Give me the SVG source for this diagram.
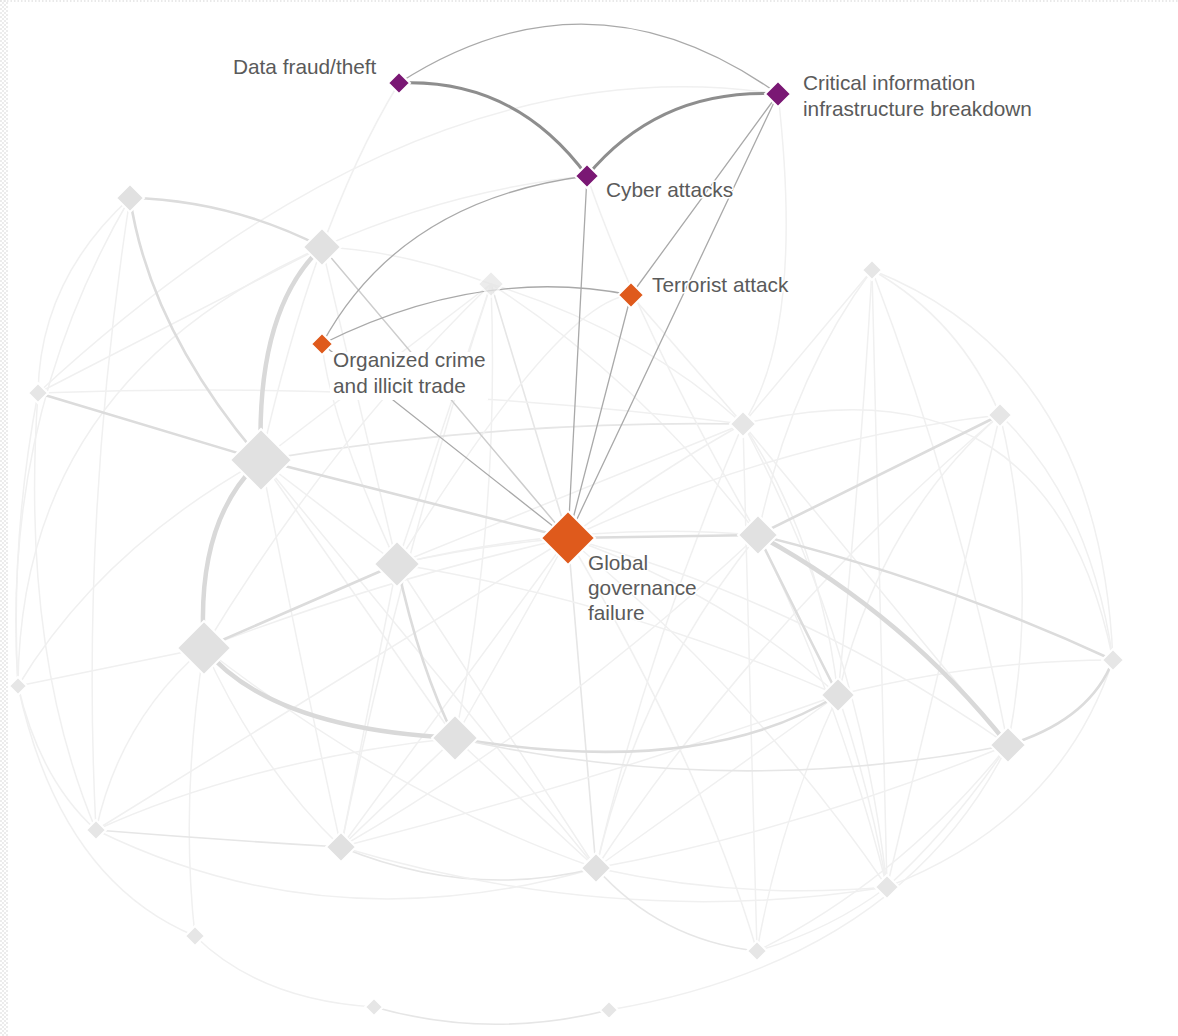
<svg xmlns="http://www.w3.org/2000/svg" width="1178" height="1036" viewBox="0 0 1178 1036">
<defs>
<pattern id="chk" width="4" height="4" patternUnits="userSpaceOnUse"><rect width="2" height="2" fill="#ececec"/><rect x="2" y="2" width="2" height="2" fill="#ececec"/></pattern>
<style>
path{fill:none;stroke-linecap:round}
.l{stroke:#f0f0f0;stroke-width:1.5}
.l2{stroke:#e6e6e6;stroke-width:1.6}
.m{stroke:#dcdcdc;stroke-width:2.6}
.t{stroke:#d9d9d9;stroke-width:4.5}
.g{stroke:#cdcdcd;stroke-width:1.5}
.h1{stroke:#a9a9a9;stroke-width:1.3}
.h2{stroke:#8e8e8e;stroke-width:3}
.gn{fill:#e1e1e1;stroke:#fff;stroke-width:2}
.gs{fill:#e6e6e6;stroke:#fff;stroke-width:2}
.pu{fill:#7a1874;stroke:#fff;stroke-width:2}
.or{fill:#df5a1c;stroke:#fff;stroke-width:2}
text{font-family:"Liberation Sans",Arial,sans-serif;font-size:20.8px;fill:#5a5a5a;stroke:#fff;stroke-width:3;paint-order:stroke;stroke-linejoin:round}
</style>
</defs>
<rect width="1178" height="1036" fill="#fff"/>
<rect x="0" y="0" width="8" height="1036" fill="url(#chk)"/>
<line x1="0" y1="1" x2="1178" y2="1" stroke="#e2e2e2" stroke-width="1.5" stroke-dasharray="1.5 2"/>
<g id="connectors">
<path class="l" d="M568,538 Q480,545 397,564"/>
<path class="l" d="M568,538 Q380,580 204,648"/>
<path class="l" d="M568,538 L455,738"/>
<path class="l" d="M568,538 Q660,470 743,424"/>
<path class="l" d="M568,538 Q780,440 1000,415"/>
<path class="l" d="M568,538 Q720,590 838,695"/>
<path class="l" d="M568,538 Q800,600 1008,745"/>
<path class="l" d="M568,538 L96,830"/>
<path class="l" d="M568,538 L341,847"/>
<path class="l2" d="M568,538 L596,868"/>
<path class="l" d="M568,538 Q760,700 887,887"/>
<path class="l" d="M568,538 Q700,760 757,951"/>
<path class="l2" d="M568,538 L491,284"/>
<path class="l" d="M491,284 Q500,520 455,738"/>
<path class="l" d="M491,284 L397,564"/>
<path class="l" d="M491,284 Q400,560 341,847"/>
<path class="l" d="M491,284 Q640,380 758,535"/>
<path class="l" d="M491,284 Q400,250 322,247"/>
<path class="l" d="M491,284 Q640,330 743,424"/>
<path class="l" d="M743,424 Q820,540 838,695"/>
<path class="l" d="M743,424 L1008,745"/>
<path class="l" d="M743,424 Q650,640 596,868"/>
<path class="l" d="M743,424 L397,564"/>
<path class="l" d="M743,424 Q860,640 887,887"/>
<path class="l" d="M743,424 Q400,380 38,393"/>
<path class="l2" d="M743,424 Q500,420 261,460"/>
<path class="l" d="M743,424 L757,951"/>
<path class="l" d="M743,424 Q1050,350 1113,660"/>
<path class="l" d="M872,270 Q960,320 1000,415"/>
<path class="l" d="M872,270 Q790,380 758,535"/>
<path class="l" d="M872,270 Q860,480 838,695"/>
<path class="l" d="M872,270 Q1100,360 1113,660"/>
<path class="l" d="M872,270 L743,424"/>
<path class="l" d="M872,270 Q960,500 1008,745"/>
<path class="l" d="M872,270 L887,887"/>
<path class="l" d="M1000,415 Q880,520 838,695"/>
<path class="l" d="M1000,415 Q1040,580 1008,745"/>
<path class="l" d="M1000,415 Q1090,500 1113,660"/>
<path class="l" d="M1000,415 Q760,620 596,868"/>
<path class="l" d="M1000,415 L887,887"/>
<path class="l" d="M758,535 Q840,700 887,887"/>
<path class="l" d="M758,535 Q640,680 596,868"/>
<path class="l" d="M758,535 Q580,520 397,564"/>
<path class="l" d="M758,535 Q560,720 341,847"/>
<path class="l" d="M838,695 Q870,790 887,887"/>
<path class="l" d="M838,695 Q780,820 757,951"/>
<path class="l" d="M838,695 L596,868"/>
<path class="l" d="M838,695 Q600,780 341,847"/>
<path class="l" d="M838,695 Q620,600 397,564"/>
<path class="l" d="M1008,745 Q950,830 887,887"/>
<path class="l" d="M1008,745 Q900,880 757,951"/>
<path class="l" d="M1008,745 Q800,830 596,868"/>
<path class="l" d="M1113,660 Q1060,820 887,887"/>
<path class="l" d="M1113,660 Q980,660 838,695"/>
<path class="l" d="M261,460 L397,564"/>
<path class="l" d="M261,460 L455,738"/>
<path class="l" d="M261,460 Q300,660 341,847"/>
<path class="l" d="M261,460 L596,868"/>
<path class="l" d="M261,460 L491,284"/>
<path class="l" d="M261,460 Q100,550 18,686"/>
<path class="l" d="M397,564 L341,847"/>
<path class="l" d="M397,564 L596,868"/>
<path class="l" d="M204,648 L18,686"/>
<path class="l" d="M204,648 Q120,720 96,830"/>
<path class="l" d="M204,648 Q260,770 341,847"/>
<path class="l" d="M204,648 Q180,800 195,936"/>
<path class="l" d="M204,648 Q330,440 491,284"/>
<path class="l" d="M204,648 Q400,800 596,868"/>
<path class="l" d="M455,738 L341,847"/>
<path class="l" d="M455,738 L596,868"/>
<path class="l" d="M455,738 Q250,760 96,830"/>
<path class="l" d="M130,198 Q40,280 38,393"/>
<path class="l" d="M130,198 Q0,420 18,686"/>
<path class="l" d="M130,198 Q80,520 96,830"/>
<path class="l" d="M322,247 L38,393"/>
<path class="l" d="M322,247 L397,564"/>
<path class="l" d="M322,247 Q20,380 18,686"/>
<path class="l" d="M38,393 Q10,540 18,686"/>
<path class="l" d="M38,393 Q20,650 96,830"/>
<path class="l" d="M18,686 Q40,780 96,830"/>
<path class="l" d="M18,686 Q60,880 195,936"/>
<path class="l" d="M96,830 Q330,945 596,868"/>
<path class="l2" d="M96,830 Q220,840 341,847"/>
<path class="l2" d="M341,847 Q470,900 596,868"/>
<path class="l" d="M341,847 Q620,930 887,887"/>
<path class="l" d="M596,868 Q740,900 887,887"/>
<path class="l2" d="M596,868 Q660,940 757,951"/>
<path class="l" d="M887,887 Q830,930 757,951"/>
<path class="l" d="M609,1010 Q900,960 1008,745"/>
<path class="l2" d="M374,1007 Q490,1040 609,1010"/>
<path class="l" d="M195,936 Q260,1000 374,1007"/>
<path class="l" d="M778,94 Q805,330 743,424"/>
<path class="l" d="M778,94 Q420,40 38,393"/>
<path class="l" d="M399,83 Q315,220 261,460"/>
<path class="l" d="M587,176 Q450,190 322,247"/>
<path class="l" d="M631,295 L743,424"/>
<path class="l" d="M631,295 Q560,300 397,564"/>
<path class="l" d="M587,176 Q640,330 758,535"/>
<path class="l" d="M322,344 Q330,420 397,564"/>
<path class="g" d="M322,247 L568,538"/>
<path class="m" d="M130,198 Q230,200 322,247"/>
<path class="m" d="M130,198 Q150,330 261,460"/>
<path class="t" d="M322,247 Q255,310 261,460"/>
<path class="t" d="M261,460 Q195,520 204,648"/>
<path class="m" d="M38,393 L261,460"/>
<path class="m" d="M261,460 L568,538"/>
<path class="m" d="M397,564 L204,648"/>
<path class="m" d="M397,564 Q420,670 455,738"/>
<path class="t" d="M204,648 Q270,729 455,738"/>
<path class="m" d="M568,538 L758,535"/>
<path class="m" d="M758,535 L1000,415"/>
<path class="t" d="M758,535 Q905,615 1008,745"/>
<path class="m" d="M758,535 Q940,580 1113,660"/>
<path class="m" d="M758,535 Q800,620 838,695"/>
<path class="m" d="M838,695 Q700,780 455,738"/>
<path class="l2" d="M455,738 Q730,800 1008,745"/>
<path class="m" d="M1008,745 Q1090,720 1113,660"/>
<path class="h1" d="M399,83 Q590,-40 778,94"/>
<path class="h2" d="M399,83 Q515,78 587,176"/>
<path class="h2" d="M778,94 Q660,88 587,176"/>
<path class="h1" d="M587,176 Q400,200 322,344"/>
<path class="h1" d="M587,176 L568,538"/>
<path class="h1" d="M778,94 L631,295"/>
<path class="h1" d="M778,94 L568,538"/>
<path class="h1" d="M631,295 L568,538"/>
<path class="h1" d="M631,295 Q480,265 322,344"/>
<path class="h1" d="M322,344 L568,538"/>
</g>
<g id="gray-nodes">
<polygon id="n-g1" class="gn" points="130,184 144,198 130,212 116,198"/>
<polygon id="n-g2" class="gn" points="322,228 341,247 322,266 303,247"/>
<polygon id="n-g3" class="gs" points="491,271 504,284 491,297 478,284" opacity="0.75"/>
<polygon id="n-g4" class="gs" points="38,383 48,393 38,403 28,393"/>
<polygon id="n-g5" class="gn" points="261,429 292,460 261,491 230,460"/>
<polygon id="n-g6" class="gn" points="397,541 420,564 397,587 374,564"/>
<polygon id="n-g7" class="gn" points="204,621 231,648 204,675 177,648"/>
<polygon id="n-g8" class="gn" points="455,715 478,738 455,761 432,738"/>
<polygon id="n-g9" class="gs" points="743,411 756,424 743,437 730,424"/>
<polygon id="n-g10" class="gs" points="872,260 882,270 872,280 862,270"/>
<polygon id="n-g11" class="gs" points="1000,403 1012,415 1000,427 988,415"/>
<polygon id="n-g12" class="gn" points="758,515 778,535 758,555 738,535"/>
<polygon id="n-g13" class="gn" points="838,678 855,695 838,712 821,695"/>
<polygon id="n-g14" class="gn" points="1008,727 1026,745 1008,763 990,745"/>
<polygon id="n-g15" class="gs" points="1113,649 1124,660 1113,671 1102,660"/>
<polygon id="n-g16" class="gs" points="18,677 27,686 18,695 9,686"/>
<polygon id="n-g17" class="gs" points="96,820 106,830 96,840 86,830"/>
<polygon id="n-g18" class="gn" points="341,832 356,847 341,862 326,847"/>
<polygon id="n-g19" class="gn" points="596,853 611,868 596,883 581,868"/>
<polygon id="n-g20" class="gs" points="887,875 899,887 887,899 875,887"/>
<polygon id="n-g21" class="gs" points="757,941 767,951 757,961 747,951"/>
<polygon id="n-g22" class="gs" points="609,1001 618,1010 609,1019 600,1010"/>
<polygon id="n-g23" class="gs" points="374,998 383,1007 374,1016 365,1007"/>
<polygon id="n-g24" class="gs" points="195,926 205,936 195,946 185,936"/>
</g>
<g id="node-data-fraud">
<polygon class="pu" points="399,72 410,83 399,94 388,83"/>
<text x="233" y="74">Data fraud/theft</text>
</g>
<g id="node-critical-info">
<polygon class="pu" points="778,81 791,94 778,107 765,94"/>
<text x="803" y="90">Critical information</text>
<text x="803" y="116">infrastructure breakdown</text>
</g>
<g id="node-cyber">
<polygon class="pu" points="587,164 599,176 587,188 575,176"/>
<text x="606" y="197">Cyber attacks</text>
</g>
<g id="node-terrorist">
<polygon class="or" points="631,282 644,295 631,308 618,295"/>
<text x="652" y="292">Terrorist attack</text>
</g>
<g id="node-organized-crime">
<rect x="330" y="352" width="158" height="48" fill="#fff"/>
<polygon class="or" points="322,333 333,344 322,355 311,344"/>
<text x="333" y="367">Organized crime</text>
<text x="333" y="393">and illicit trade</text>
</g>
<g id="node-global-governance">
<polygon class="or" points="568,511 595,538 568,565 541,538" stroke-width="3"/>
<text x="588" y="570">Global</text>
<text x="588" y="595">governance</text>
<text x="588" y="620">failure</text>
</g>
</svg>
